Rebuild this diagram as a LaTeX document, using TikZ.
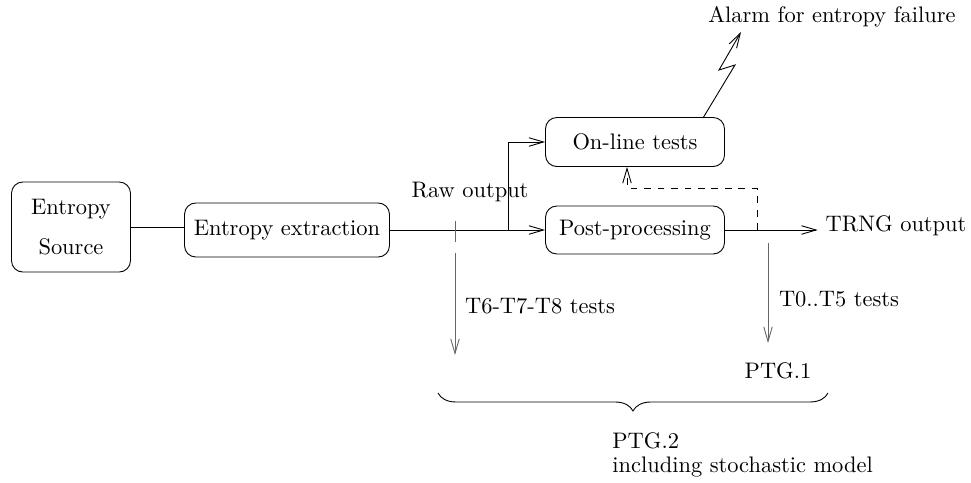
\documentclass[tikz,border=0pt]{standalone}
\usepackage{tikz}
\usetikzlibrary{arrows.meta}
\usetikzlibrary{decorations.pathreplacing}
\tikzset{>={Straight Barb[length=6.5pt,width=3.8pt]}}
\tikzset{blk/.style={draw,rounded corners=5pt,inner sep=0pt,align=center}}
\tikzset{probe/.style={black!60}}

\begin{document}
\begin{tikzpicture}[x=0.01565cm,y=-0.01565cm]
    \useasboundingbox (0,0) rectangle (971,482);
    \node[blk,minimum width=1.862cm,minimum height=1.409cm] (src) at (71,227) {Entropy\\[5.5pt]Source};
    \node[blk,minimum width=3.208cm,minimum height=0.845cm] (ext) at (287,230) {Entropy extraction};
    \node[blk,minimum width=2.801cm,minimum height=0.767cm] (online) at (635,142) {On-line tests};
    \node[blk,minimum width=2.801cm,minimum height=0.751cm] (post) at (635,230) {Post-processing};
    \node (raw) at (470,192) {Raw output};
    \node (trng) at (896,226) {TRNG output};
    \node (alarm) at (832,17) {Alarm for entropy failure};
    \node (t678) at (540,306) {T6-T7-T8 tests};
    \node (t05) at (839,299) {T0..T5 tests};
    \node (ptg1) at (778,371) {PTG.1};
    \node[anchor=north west,align=left,inner sep=0pt] (ptg2) at (612,432) {PTG.2\\[-1pt]including stochastic model};
    \coordinate (fork) at (508,230);
    \coordinate (fb) at (757,230);
    \coordinate (fbtop) at (627,188);
    \coordinate (zap) at (703,118);
    % main path
    \draw (src.east) -- (src.east -| ext.west);
    \draw[->] (ext.east) -- (ext.east -| post.west);
    \draw[->] (fork) |- (online.west);
    \draw[->] (post.east) -- (post.east -| trng.west);
    \draw[dashed,->] (fb) |- (fbtop) -- (fbtop |- online.south);
    \draw[->] (zap) -- (735,65) -- (719,70) -- (741,32);
    % test taps
    \draw[probe] (455,221) -- (455,242);
    \draw[probe,->] (455,253) -- (455,355);
    \draw[probe,->] (768,243) -- (768,343);
    \draw[decorate,decoration={brace,mirror,amplitude=8pt}] (438,393) -- (828,393);
  \end{tikzpicture}
\end{document}
